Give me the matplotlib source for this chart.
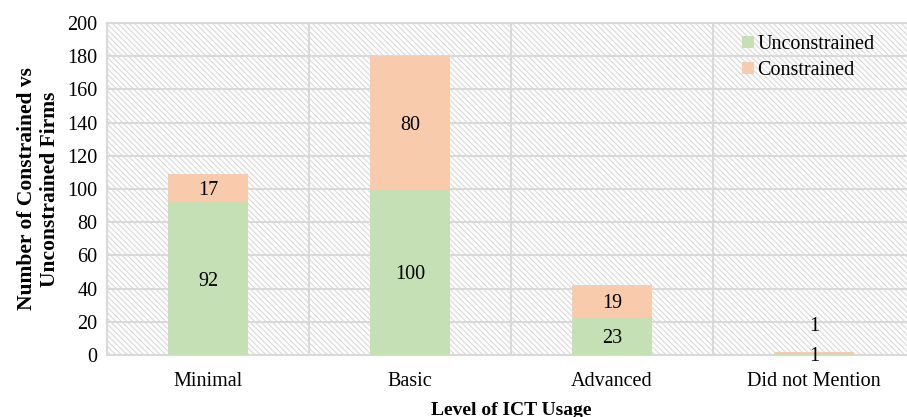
import matplotlib.pyplot as plt
from matplotlib.patches import Rectangle

plt.rcParams['font.family'] = ['Liberation Serif', 'DejaVu Serif']
plt.rcParams['hatch.color'] = '#d6d6d6'
plt.rcParams['hatch.linewidth'] = 0.8

levels = ['Minimal', 'Basic', 'Advanced', 'Did not Mention']
unconstrained = [92, 100, 23, 1]
constrained = [17, 80, 19, 1]

green = '#c5e0b4'
orange = '#f8cbad'
grid_col = '#d9d9d9'
fs = 14.5

fig = plt.figure(figsize=(9.07, 4.17), dpi=100)
ax = fig.add_axes([107 / 907, 62 / 417, 808 / 907, 332 / 417])

# diagonal hatched plot background
ax.add_patch(Rectangle((0, 0), 1, 1, transform=ax.transAxes, facecolor='white',
                       edgecolor=grid_col, hatch='\\' * 6, lw=0, zorder=0))

x = range(len(levels))
ax.bar(x, unconstrained, width=0.4, color=green, label='Unconstrained', zorder=3)
ax.bar(x, constrained, width=0.4, bottom=unconstrained, color=orange,
       label='Constrained', zorder=3)

for i in x:
    u, c = unconstrained[i], constrained[i]
    ax.annotate(str(u), (i, u / 2), xytext=(0, -2), textcoords='offset points',
                ha='center', va='center', fontsize=fs, zorder=4)
    if c > 5:
        ax.annotate(str(c), (i, u + c / 2), xytext=(0, -2), textcoords='offset points',
                    ha='center', va='center', fontsize=fs, zorder=4)
    else:
        ax.annotate(str(c), (i, u + c), xytext=(0, 18), textcoords='offset points',
                    ha='center', va='center', fontsize=fs, zorder=4)

ax.set_xlim(-0.5, 3.5)
ax.set_ylim(0, 200)
ax.set_yticks(range(0, 201, 20))
ax.set_xticks(list(x))
ax.set_xticklabels(levels)
ax.set_xticks([0.5, 1.5, 2.5], minor=True)
ax.tick_params(axis='both', which='both', length=0, labelsize=fs)
ax.tick_params(axis='x', pad=12)
ax.tick_params(axis='y', pad=7)

ax.grid(axis='y', color=grid_col, lw=1.5, zorder=1)
ax.grid(axis='x', which='minor', color=grid_col, lw=1.5, zorder=1)
ax.set_axisbelow(True)
for s in ax.spines.values():
    s.set_color(grid_col)
    s.set_linewidth(1.5)

ax.set_xlabel('Level of ICT Usage', fontsize=14, fontweight='bold', labelpad=8)
ax.set_ylabel('Number of Constrained vs\nUnconstrained Firms', fontsize=15.5,
              fontweight='bold', labelpad=5)

ax.legend(loc='upper right', bbox_to_anchor=(0.965, 1.0), frameon=False,
          fontsize=fs, handlelength=0.6, handleheight=0.6, handletextpad=0.15,
          labelspacing=0.35, borderaxespad=0.2)

fig.savefig('out.png', dpi=100)
